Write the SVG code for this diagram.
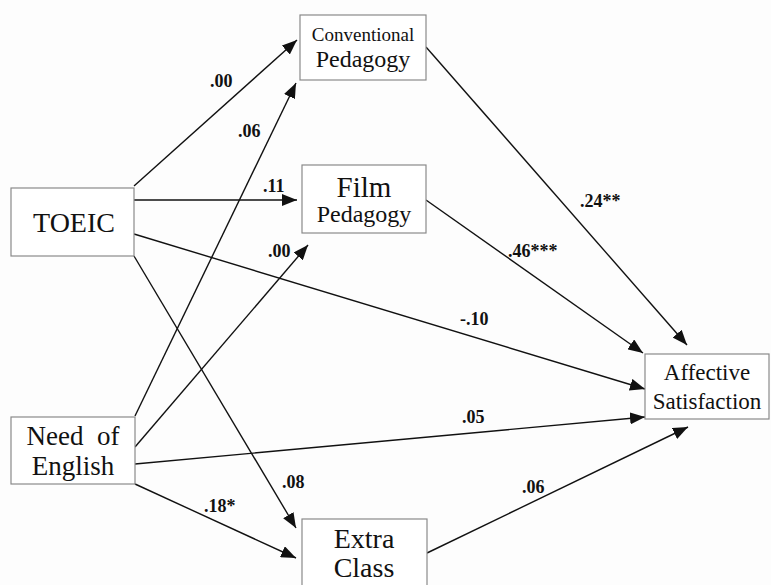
<svg xmlns="http://www.w3.org/2000/svg" width="771" height="585" viewBox="0 0 771 585">
<style>
.box{fill:#fff;stroke:#8a8a8a;stroke-width:1.2}
.t{fill:#111;text-anchor:middle}
.lab{font-weight:bold;font-size:18px;fill:#111}
.c{stroke:#111;stroke-width:1.4;fill:none;marker-end:url(#ah)}
</style>
<defs>
<marker id="ah" markerUnits="userSpaceOnUse" markerWidth="16" markerHeight="12" refX="15" refY="6" orient="auto">
<path d="M0,0 L15,6 L0,12 Z" fill="#111"/>
</marker>
</defs>
<rect width="771" height="585" fill="#fdfdfd"/>
<g id="connectors">
<line class="c" x1="134" y1="186" x2="297" y2="40"/>
<line class="c" x1="135" y1="416" x2="296" y2="83"/>
<line class="c" x1="134" y1="200" x2="297" y2="200"/>
<line class="c" x1="135" y1="447" x2="308" y2="245"/>
<line class="c" x1="134" y1="234" x2="645" y2="389"/>
<line class="c" x1="135" y1="464" x2="645" y2="417"/>
<line class="c" x1="134" y1="256" x2="296" y2="528"/>
<line class="c" x1="135" y1="484" x2="296" y2="558"/>
<line class="c" x1="426" y1="47" x2="687" y2="345"/>
<line class="c" x1="426" y1="200" x2="643" y2="353"/>
<line class="c" x1="427" y1="553" x2="688" y2="427"/>
</g>
<g id="labels" font-family="Liberation Serif, serif">
<text class="lab" x="210" y="87">.00</text>
<text class="lab" x="238" y="137">.06</text>
<text class="lab" x="263" y="192">.11</text>
<text class="lab" x="268" y="257">.00</text>
<text class="lab" x="460" y="325">-.10</text>
<text class="lab" x="462" y="423">.05</text>
<text class="lab" x="282" y="488">.08</text>
<text class="lab" x="204" y="512">.18*</text>
<text class="lab" x="580" y="207">.24**</text>
<text class="lab" x="508" y="257">.46***</text>
<text class="lab" x="522" y="493">.06</text>
</g>
<g id="conventional" font-family="Liberation Serif, serif">
<rect class="box" x="300" y="15" width="126" height="65"/>
<text class="t" x="363" y="41" font-size="19">Conventional</text>
<text class="t" x="363" y="67" font-size="24">Pedagogy</text>
</g>
<g id="film" font-family="Liberation Serif, serif">
<rect class="box" x="302" y="165" width="124" height="68"/>
<text class="t" x="364" y="197" font-size="29">Film</text>
<text class="t" x="364" y="222" font-size="24">Pedagogy</text>
</g>
<g id="toeic" font-family="Liberation Serif, serif">
<rect class="box" x="11" y="188" width="123" height="68"/>
<text class="t" x="74" y="232" font-size="28">TOEIC</text>
</g>
<g id="need" font-family="Liberation Serif, serif">
<rect class="box" x="11" y="417" width="124" height="67"/>
<text class="t" x="73" y="445" font-size="27" xml:space="preserve">Need  of</text>
<text class="t" x="73" y="475" font-size="27">English</text>
</g>
<g id="extra" font-family="Liberation Serif, serif">
<rect class="box" x="302" y="519" width="125" height="70"/>
<text class="t" x="364" y="548" font-size="28">Extra</text>
<text class="t" x="364" y="577" font-size="28">Class</text>
</g>
<g id="affective" font-family="Liberation Serif, serif">
<rect class="box" x="645" y="354" width="124" height="65"/>
<text class="t" x="707" y="380" font-size="23">Affective</text>
<text class="t" x="707" y="409" font-size="23">Satisfaction</text>
</g>
</svg>
